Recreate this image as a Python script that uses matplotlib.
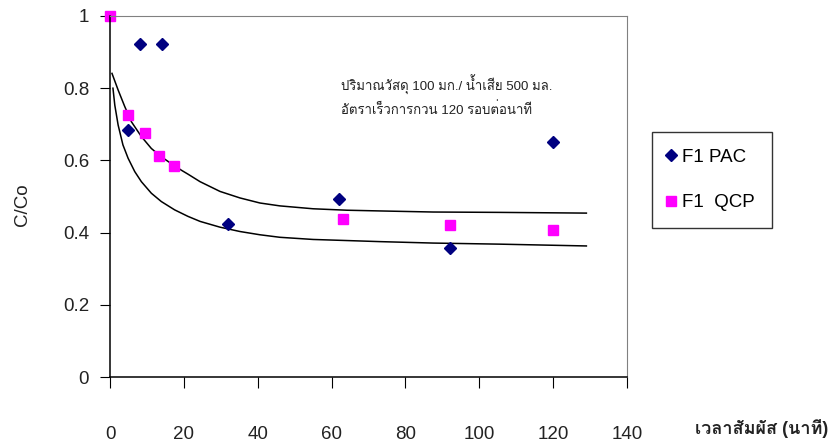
import matplotlib
matplotlib.use("Agg")
import matplotlib.pyplot as plt
from matplotlib import font_manager as fm
from matplotlib.ft2font import FT2Font
from matplotlib.lines import Line2D

# find some installed font that has Thai glyphs
thai_font = None
for f in fm.fontManager.ttflist:
    try:
        if 0x0E27 in FT2Font(f.fname).get_charmap():
            thai_font = f.name
            break
    except Exception:
        pass

fams = ['Liberation Sans', 'DejaVu Sans']
if thai_font:
    fams = ['Liberation Sans', thai_font, 'DejaVu Sans']
plt.rcParams['font.family'] = fams

# measured points
pac_t = [5, 8, 14, 32, 62, 92, 120]
pac_c = [0.685, 0.922, 0.922, 0.424, 0.492, 0.358, 0.650]
qcp_t = [0, 5, 9.5, 13.3, 17.3, 63, 92, 120]
qcp_c = [1.0, 0.726, 0.676, 0.612, 0.584, 0.437, 0.421, 0.408]

# fitted curves
up_t = [0.54, 2.2, 4.0, 5.8, 8.5, 11.2, 13.9, 16.6, 19.3, 21.1, 24.4, 29.8, 35.2, 40.6,
        46.0, 55.0, 64.1, 73.1, 87.5, 105.5, 129]
up_c = [0.841, 0.795, 0.749, 0.707, 0.666, 0.633, 0.610, 0.591, 0.573, 0.562, 0.541, 0.514,
        0.496, 0.482, 0.474, 0.466, 0.462, 0.460, 0.457, 0.456, 0.454]
lo_t = [0.8, 1.3, 2.2, 3.5, 4.9, 6.7, 8.5, 11.2, 13.9, 17.5, 21.1, 24.4, 29.8, 35.2, 40.6,
        46.0, 55.0, 64.1, 73.1, 87.5, 105.5, 129]
lo_c = [0.800, 0.753, 0.698, 0.643, 0.606, 0.569, 0.541, 0.509, 0.486, 0.463, 0.445, 0.431,
        0.415, 0.403, 0.394, 0.387, 0.381, 0.378, 0.375, 0.371, 0.368, 0.363]

xticks = [0, 20, 40, 60, 80, 100, 120, 140]
yticks = [0, 0.2, 0.4, 0.6, 0.8, 1]
ylabels = ['0', '0.2', '0.4', '0.6', '0.8', '1']

fig = plt.figure(figsize=(8.35, 4.43), dpi=100)
ax = fig.add_axes([110/835, 1-377/443, 517/835, 361/443])

ax.plot(up_t, up_c, color='black', lw=1.1, solid_joinstyle='round')
ax.plot(lo_t, lo_c, color='black', lw=1.1, solid_joinstyle='round')
ax.plot(pac_t, pac_c, 'D', color='#000080', ms=6.5, ls='none', clip_on=False)
ax.plot(qcp_t, qcp_c, 's', color='#FF00FF', ms=7, ls='none', clip_on=False)

ax.set_xlim(0, 140)
ax.set_ylim(0, 1)
ax.set_xticks(xticks)
ax.set_yticks(yticks)
ax.set_yticklabels(ylabels)
ax.tick_params(axis='x', direction='out', length=8, pad=27, labelsize=13.5, colors='black', labelcolor='#222222')
ax.tick_params(axis='y', direction='out', length=7, pad=8, labelsize=13.5, labelcolor='#222222')
for s in ['top', 'right']:
    ax.spines[s].set_color('#808080')
for s in ['left', 'bottom']:
    ax.spines[s].set_color('black')
    ax.spines[s].set_linewidth(1.1)

fig.text(22/835, 1-205/443, 'C/Co', rotation=90, ha='center', va='center', fontsize=13.5, color='#222222')
fig.text(762/835, 1-428/443, 'เวลาสัมผัส (นาที)', ha='center', va='center', fontsize=13, fontweight='bold', color='#222222')

fig.text(341/835, 1-85/443, 'ปริมาณวัสดุ 100 มก./ น้ำเสีย 500 มล.', ha='left', va='center', fontsize=9.5, color='#222222')
fig.text(341/835, 1-110/443, 'อัตราเร็วการกวน 120 รอบต่อนาที', ha='left', va='center', fontsize=9.5, color='#222222')

handles = [Line2D([], [], marker='D', color='#000080', ls='none', ms=6.5),
           Line2D([], [], marker='s', color='#FF00FF', ls='none', ms=7)]
leg = fig.legend(handles, ['F1 PAC', 'F1  QCP'], loc='upper left',
                 bbox_to_anchor=(652/835, 1-132/443), fontsize=13.5,
                 frameon=True, fancybox=False, edgecolor='black',
                 labelspacing=1.5, handlelength=0.2, handletextpad=0.5,
                 borderpad=0.9, borderaxespad=0)
leg.get_frame().set_linewidth(1.0)

fig.savefig('out.png', dpi=100)
